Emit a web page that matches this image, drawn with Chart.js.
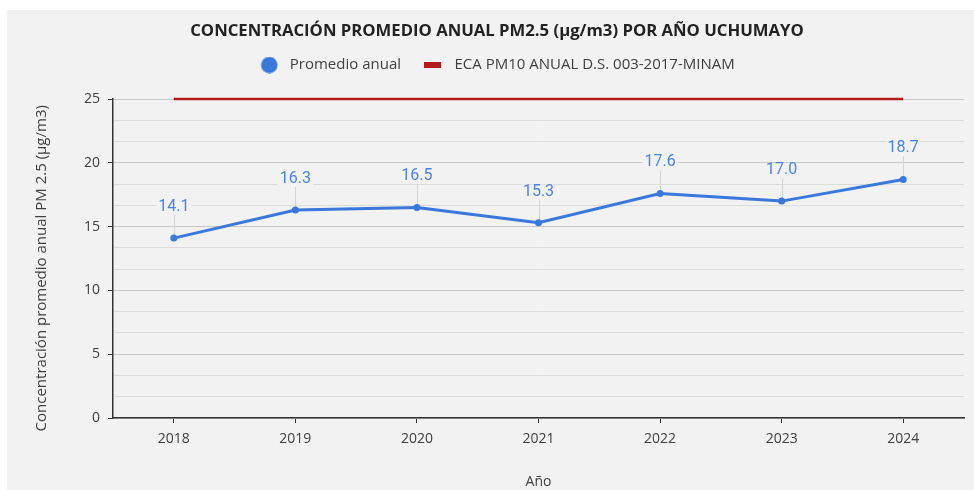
<!DOCTYPE html>
<html><head><meta charset="utf-8">
<script src="https://cdn.jsdelivr.net/npm/chart.js@4.4.1/dist/chart.umd.min.js"></script>
<style>
html,body{margin:0;padding:0;background:#fff;overflow:hidden;width:974px;height:490px;position:relative;}
#box{position:absolute;left:7px;top:10px;width:980px;height:480px;background:#f2f2f2;}
canvas{display:block;}
</style></head><body>
<div id="box"><canvas id="c" width="980" height="480"></canvas></div>
<script>
// ---- data ----
const years = ['2018', '2019', '2020', '2021', '2022', '2023', '2024'];
const promedioAnual = [14.1, 16.3, 16.5, 15.3, 17.6, 17.0, 18.7];
const ecaLimit = [25, 25, 25, 25, 25, 25, 25];
const yMajorTicks = [0, 5, 10, 15, 20, 25];
const yGridValues = [0, 5/3, 10/3, 5, 20/3, 25/3, 10, 35/3, 40/3, 15, 50/3, 55/3, 20, 65/3, 70/3, 25];

const seriesLabels = ['Promedio anual', 'ECA PM10 ANUAL D.S. 003-2017-MINAM'];
const chartTitle = 'CONCENTRACIÓN PROMEDIO ANUAL PM2.5 (µg/m3) POR AÑO UCHUMAYO';
const yTitle = 'Concentración promedio anual PM 2.5 (µg/m3)';
const xTitle = 'Año';

const BLUE = '#3a78dc';
const RED = '#b3191b';
const TXT = '#404040';
const FONT = 'Open Sans';

const isMajor = v => yMajorTicks.some(m => Math.abs(m - v) < 1e-6);

// legend marker images
const circleImg = document.createElement('canvas');
circleImg.width = 23; circleImg.height = 17;
(function(){ const g = circleImg.getContext('2d'); g.fillStyle = BLUE; g.beginPath(); g.arc(10, 8.5, 8.3, 0, Math.PI*2); g.fill(); })();
const rectImg = document.createElement('canvas');
rectImg.width = 23; rectImg.height = 6;
(function(){ const g = rectImg.getContext('2d'); g.fillStyle = RED; g.fillRect(0, 0, 17, 6); })();

const leaderPlugin = {
  id: 'leaders',
  beforeDatasetsDraw(chart) {
    const meta = chart.getDatasetMeta(0);
    const ctx = chart.ctx;
    ctx.save();
    ctx.strokeStyle = '#d4d4d4';
    ctx.lineWidth = 1;
    meta.data.forEach(pt => {
      const x = Math.round(pt.x) + 0.5;
      ctx.beginPath();
      ctx.moveTo(x, pt.y);
      ctx.lineTo(x, pt.y - 23);
      ctx.stroke();
    });
    ctx.restore();
  },
  afterDatasetsDraw(chart) {
    const meta = chart.getDatasetMeta(0);
    const ctx = chart.ctx;
    const vals = chart.data.datasets[0].data;
    ctx.save();
    ctx.font = '16px Roboto';
    ctx.textAlign = 'center';
    ctx.textBaseline = 'middle';
    meta.data.forEach((pt, i) => {
      const txt = vals[i].toFixed(1);
      const cy = pt.y - 31;
      const w = ctx.measureText(txt).width;
      ctx.fillStyle = '#f2f2f2';
      ctx.fillRect(pt.x - w/2 - 2, cy - 7, w + 4, 14);
      ctx.fillStyle = '#4a84e4';
      ctx.fillText(txt, pt.x, cy);
    });
    ctx.restore();
  }
};

new Chart(document.getElementById('c'), {
  type: 'line',
  data: {
    labels: years,
    datasets: [
      { label: seriesLabels[0], data: promedioAnual, borderColor: BLUE, backgroundColor: BLUE,
        borderWidth: 3, pointRadius: 3.5, pointBackgroundColor: BLUE, pointBorderWidth: 0, tension: 0 },
      { label: seriesLabels[1], data: ecaLimit, borderColor: RED, backgroundColor: RED,
        borderWidth: 2.5, pointRadius: 0, tension: 0, clip: false }
    ]
  },
  options: {
    responsive: false,
    animation: false,
    devicePixelRatio: 1,
    layout: { padding: 0 },
    plugins: {
      title: { display: true, text: chartTitle, color: '#222', weight: 2000,
        font: { family: FONT, size: 16.7, weight: 'bold', lineHeight: 1.2 },
        padding: { top: 11.6, bottom: -7.1 } },
      subtitle: { display: true, text: '', weight: 1500, font: { size: 10, lineHeight: 1 }, padding: { top: 6.5, bottom: 0 } },
      legend: {
        display: true, position: 'top', weight: 1800,
        labels: {
          usePointStyle: true, pointStyleWidth: 23, boxHeight: 14, padding: 23,
          font: { family: FONT, size: 15 }, color: TXT,
          generateLabels(chart) {
            return chart.data.datasets.map((ds, i) => ({
              text: ds.label, pointStyle: i === 0 ? circleImg : rectImg,
              fillStyle: ds.borderColor, strokeStyle: ds.borderColor, lineWidth: 0,
              hidden: false, datasetIndex: i, fontColor: TXT
            }));
          }
        }
      },
      tooltip: { enabled: false }
    },
    scales: {
      x: {
        offset: true,
        grid: { display: true, drawOnChartArea: false, offset: false, tickLength: 5, tickColor: '#333' },
        border: { color: '#333', width: 1.5 },
        ticks: { font: { family: FONT, size: 14 }, color: TXT, padding: 8 },
        title: { display: true, text: xTitle, font: { family: FONT, size: 14 }, color: TXT, padding: { top: 0, bottom: 0 } },
        afterFit: s => { s.height = 72; }
      },
      y: {
        min: 0, max: 25,
        afterBuildTicks: s => { s.ticks = yGridValues.map(v => ({ value: v })); },
        afterFit: s => { s.width = 106; },
        ticks: { autoSkip: false, font: { family: FONT, size: 14 }, color: TXT, padding: 8,
          callback: v => isMajor(v) ? String(Math.round(v)) : '' },
        grid: { color: c => isMajor(c.tick.value) ? '#c8c8c8' : '#dcdcdc', lineWidth: 1, tickLength: 5,
          tickColor: c => isMajor(c.tick.value) ? '#333' : 'rgba(0,0,0,0)' },
        border: { color: '#333', width: 1.5 },
        title: { display: true, text: yTitle + '\u00a0\u00a0\u00a0\u00a0\u00a0', font: { family: FONT, size: 15 }, color: TXT, padding: { top: 26, bottom: 0 } }
      },
      yR: {
        position: 'right', display: true,
        grid: { display: false, drawTicks: false }, border: { display: false },
        ticks: { display: false },
        afterFit: s => { s.width = 23; }
      }
    }
  },
  plugins: [leaderPlugin]
});
</script>
</body></html>
